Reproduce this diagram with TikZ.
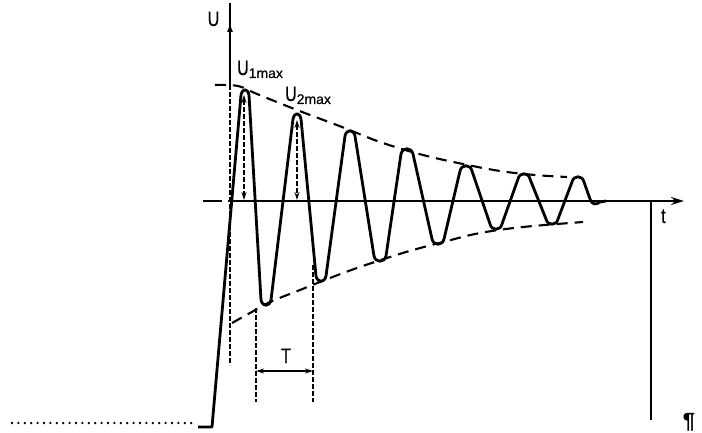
\documentclass[tikz,border=0pt]{standalone}
\usepackage{fontspec}
\setmainfont{Liberation Sans}
\newfontfamily\labfont[FakeStretch=0.76,FakeBold=0.3]{Liberation Sans}
\newfontfamily\subfontfam[FakeBold=0.3]{Liberation Sans}
\newcommand\mysubfont{\subfontfam\fontsize{14}{16}\selectfont}
\usetikzlibrary{arrows.meta}
\begin{document}
\begin{tikzpicture}[x=1pt,y=-1pt,
  curve/.style={line width=2.8pt, line join=round},
  axisline/.style={line width=2pt},
  envelope/.style={line width=2.1pt, dash pattern=on 11pt off 7pt},
  guide/.style={line width=1.3pt, dash pattern=on 5pt off 2pt},
  dimarrow/.style={line width=1.8pt, {Stealth[length=8pt,width=5pt]}-{Stealth[length=8pt,width=5pt]}},
  lab/.style={inner sep=0pt, font=\labfont\fontsize{21}{25}\selectfont},
]
\useasboundingbox (0,0) rectangle (702,433);

% axes
\coordinate (utop) at (230,3);
\coordinate (uhead) at (230,22);
\coordinate (ustart) at (230,85);
\coordinate (o) at (230,201);
\coordinate (tend) at (684,201);
\draw[axisline] (ustart) -- (utop);
\draw[axisline, -{Latex[length=10pt,width=6pt]}] (ustart) -- (uhead);
\draw[axisline] (203,201) -- (222,201);
\draw[axisline, -{Stealth[length=13pt,width=8pt]}] (228,201) -- (tend);
\draw[axisline] (651,201) -- (651,420);

% dash-dotted guide lines
\draw[guide] (ustart) -- (230,365);
\draw[guide] (256,308) -- (256,402);
\draw[guide] (313,265) -- (313,402);

% amplitude arrows
\draw[guide, {Stealth[length=8pt,width=5pt]}-{Stealth[length=8pt,width=5pt]}] (244,95) -- (244,200);
\draw[guide, {Stealth[length=8pt,width=5pt]}-{Stealth[length=8pt,width=5pt]}] (297,120) -- (297,200);

% period arrow
\draw[dimarrow] (256,371) -- (313,371);

% envelopes
\draw[envelope] plot[smooth, tension=0.6] coordinates {(215,85) (238,86) (257,94) (297,110) (342,127) (380,142) (423,155) (463,164) (500,171) (535,175) (567,177)};
\draw[envelope] plot[smooth, tension=0.6] coordinates {(232,323) (250,313) (270,302) (300,290) (330,278) (357,268) (390,257) (413,250) (447,241) (480,233) (523,227) (583,222)};

% dotted lead-in
\draw[line width=2.6pt, line cap=round, dash pattern=on 0pt off 6.4pt] (12,423) -- (192,423);

% oscillation
\draw[curve] (198,427) -- (212,427)
  -- (241,95) .. controls (242.5,88) and (247.5,88) .. (249,95)
  -- (261,300) .. controls (262.5,307) and (269.5,307) .. (271,300)
  -- (293,119) .. controls (294.5,112) and (299.5,112) .. (301,119)
  -- (316,276) .. controls (317.5,283) and (324.5,283) .. (326,276)
  -- (345,136) .. controls (346.5,129) and (353.5,129) .. (355,136)
  -- (374,256) .. controls (375.5,263) and (384.5,263) .. (386,256)
  -- (401,154) .. controls (402.5,147) and (411.5,147) .. (413,154)
  -- (432,239) .. controls (433.5,246) and (442.5,246) .. (444,239)
  -- (460,171) .. controls (461.5,164) and (470.5,164) .. (472,171)
  -- (490,224) .. controls (491.5,231) and (500.5,231) .. (502,224)
  -- (518,179) .. controls (519.5,172) and (528.5,172) .. (530,179)
  -- (546,219) .. controls (547.5,226) and (556.5,226) .. (558,219)
  -- (572,182) .. controls (573.5,175) and (582.5,175) .. (584,182)
  -- (590,199) .. controls (592,205) and (596,205) .. (600,202) -- (606,201);

% labels
\node[lab, anchor=base] (U) at (213.5,26) {U};
\node[lab, anchor=base west] (U1) at (237,75) {U\raisebox{-3pt}{\mysubfont 1max}};
\node[lab, anchor=base west] (U2) at (285,101) {U\raisebox{-3pt}{\mysubfont 2max}};
\node[lab, anchor=base west] (tl) at (661,223) {t};
\node[lab, anchor=base] (Tl) at (286,363) {T};
\node[inner sep=0pt, anchor=base, font=\bfseries\fontsize{22}{26}\selectfont] (pil) at (689,428) {¶};
\end{tikzpicture}
\end{document}
